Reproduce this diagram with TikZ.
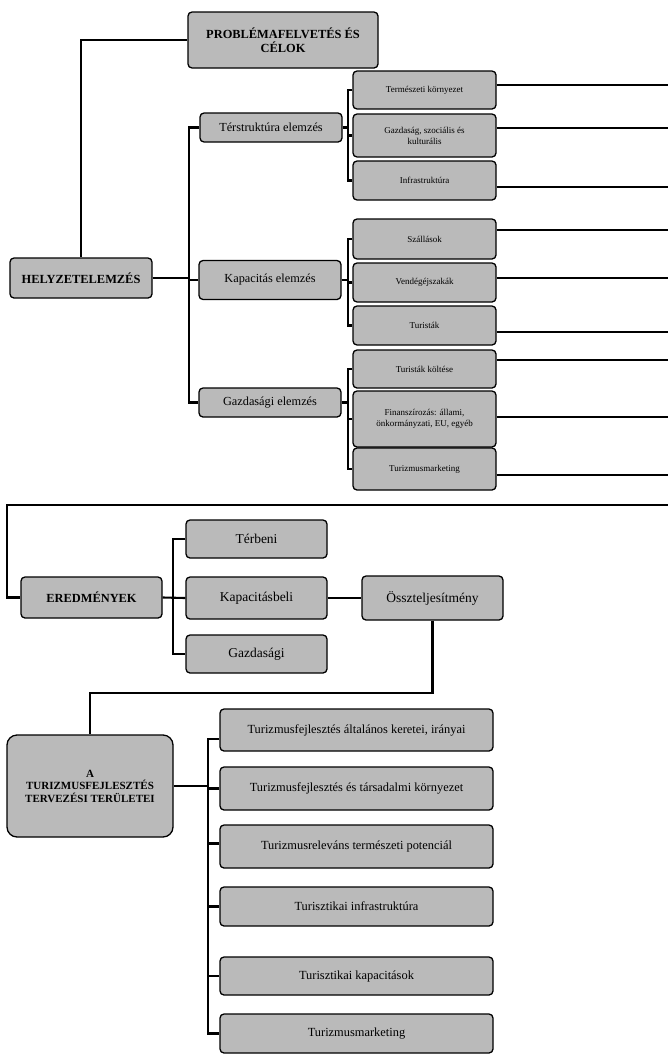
\documentclass[tikz,border=0pt]{standalone}
\usepackage{fontspec}
\setmainfont{Liberation Serif}
\begin{document}
\begin{tikzpicture}[x=1pt,y=-1pt,
  box/.style={draw=black,line width=1.3pt,fill=black!27,rounded corners=4pt,
    inner sep=1pt,align=center,text=black},
  bigt/.style={font=\fontsize{12.4}{13.5}\selectfont\bfseries},
  lvtwo/.style={font=\fontsize{12.3}{13}\selectfont},
  lvthree/.style={font=\fontsize{9}{11}\selectfont},
  midt/.style={font=\fontsize{13.5}{14.5}\selectfont},
  bott/.style={font=\fontsize{12.4}{13}\selectfont},
  conn/.style={line width=2.1pt,draw=black}]
\useasboundingbox (0,0) rectangle (668,1055);
\fill[white] (0,0) rectangle (668,1055);
% first section
\node[box,bigt,minimum width=190pt,minimum height=56pt] (P) at (283,40) {PROBLÉMAFELVETÉS ÉS\\CÉLOK};
\node[box,bigt,minimum width=142pt,minimum height=40pt] (H) at (81,278) {HELYZETELEMZÉS};
\node[box,lvtwo,minimum width=142pt,minimum height=29pt] (T) at (271,127.5) {Térstruktúra elemzés};
\node[box,lvtwo,minimum width=142pt,minimum height=39pt] (K) at (270,280) {Kapacitás elemzés};
\node[box,lvtwo,minimum width=142pt,minimum height=29pt] (G) at (270,402.5) {Gazdasági elemzés};
\node[box,lvthree,minimum width=143pt,minimum height=38pt] (TK) at (424.5,90) {Természeti környezet};
\node[box,lvthree,minimum width=143pt,minimum height=43pt] (GSK) at (424.5,135.5) {Gazdaság, szociális és\\kulturális};
\node[box,lvthree,minimum width=143pt,minimum height=39pt] (IN) at (424.5,180.5) {Infrastruktúra};
\node[box,lvthree,minimum width=143pt,minimum height=40pt] (SZ) at (424.5,239) {Szállások};
\node[box,lvthree,minimum width=143pt,minimum height=39pt] (VE) at (424.5,282.5) {Vendégéjszakák};
\node[box,lvthree,minimum width=143pt,minimum height=39pt] (TU) at (424.5,325.5) {Turisták};
\node[box,lvthree,minimum width=143pt,minimum height=38pt] (TKO) at (424.5,369) {Turisták költése};
\node[box,lvthree,minimum width=143pt,minimum height=56pt] (FI) at (424.5,419) {Finanszírozás: állami,\\önkormányzati, EU, egyéb};
\node[box,lvthree,minimum width=143pt,minimum height=42pt] (TM) at (424.5,469) {Turizmusmarketing};
% second section
\node[box,bigt,minimum width=141pt,minimum height=41pt] (ER) at (91.5,597.5) {EREDMÉNYEK};
\node[box,midt,minimum width=141pt,minimum height=38pt] (TB) at (256.5,539) {Térbeni};
\node[box,midt,minimum width=141pt,minimum height=42pt] (KB) at (256.5,598) {Kapacitásbeli};
\node[box,midt,minimum width=141pt,minimum height=38pt] (GB) at (256.5,654) {Gazdasági};
\node[box,midt,minimum width=141pt,minimum height=44pt] (OS) at (432.5,598) {Összteljesítmény};
% third section
\node[box,rounded corners=10pt,font=\fontsize{11}{12.5}\selectfont\bfseries,minimum width=166pt,minimum height=102pt] (A) at (90,786) {A\\TURIZMUSFEJLESZTÉS\\TERVEZÉSI TERÜLETEI};
\node[box,bott,minimum width=273pt,minimum height=42pt] (B1) at (356.5,730) {Turizmusfejlesztés általános keretei, irányai};
\node[box,bott,minimum width=273pt,minimum height=43pt] (B2) at (356.5,788.5) {Turizmusfejlesztés és társadalmi környezet};
\node[box,bott,minimum width=273pt,minimum height=43pt] (B3) at (356.5,846.5) {Turizmusreleváns természeti potenciál};
\node[box,bott,minimum width=273pt,minimum height=39pt] (B4) at (356.5,906.5) {Turisztikai infrastruktúra};
\node[box,bott,minimum width=273pt,minimum height=38pt] (B5) at (356.5,976) {Turisztikai kapacitások};
\node[box,bott,minimum width=273pt,minimum height=39pt] (B6) at (356.5,1033.5) {Turizmusmarketing};
% bus coordinates
\coordinate (bx) at (189,0);
\coordinate (b2) at (348,0);
\coordinate (b3) at (173,0);
\coordinate (b4) at (208,0);
\coordinate (E) at (668,0);
\coordinate (c1) at (668,505);
\coordinate (c2) at (7,505);
\coordinate (c3) at (0,693);
% connectors section 1
\draw[conn] (P.west) -| (H.north);
\draw[conn] (T.west) -- (T.west -| bx) |- (G.west);
\draw[conn] (H.east) -- (H.east -| bx);
\draw[conn] (K.west) -- (K.west -| bx);
\draw[conn] (T.east) -- (T.east -| b2);
\draw[conn] (TK.west) -- (TK.west -| b2) |- (IN.west);
\draw[conn] (GSK.west) -- (GSK.west -| b2);
\draw[conn] (K.east) -- (K.east -| b2);
\draw[conn] (SZ.west) -- (SZ.west -| b2) |- (TU.west);
\draw[conn] (VE.west) -- (VE.west -| b2);
\draw[conn] (G.east) -- (G.east -| b2);
\draw[conn] (TKO.west) -- (TKO.west -| b2) |- (TM.west);
\draw[conn] (FI.west) -- (FI.west -| b2);
% right edge lines
\draw[conn] ([yshift=5pt]TK.east) -- ([yshift=5pt]TK.east -| E);
\draw[conn] ([yshift=7.5pt]GSK.east) -- ([yshift=7.5pt]GSK.east -| E);
\draw[conn] ([yshift=-6.5pt]IN.east) -- ([yshift=-6.5pt]IN.east -| E);
\draw[conn] ([yshift=9pt]SZ.east) -- ([yshift=9pt]SZ.east -| E);
\draw[conn] ([yshift=4.5pt]VE.east) -- ([yshift=4.5pt]VE.east -| E);
\draw[conn] ([yshift=-6.5pt]TU.east) -- ([yshift=-6.5pt]TU.east -| E);
\draw[conn] ([yshift=9pt]TKO.east) -- ([yshift=9pt]TKO.east -| E);
\draw[conn] ([yshift=2pt]FI.east) -- ([yshift=2pt]FI.east -| E);
\draw[conn] ([yshift=-6pt]TM.east) -- ([yshift=-6pt]TM.east -| E);
% section 2
\draw[conn] (c1) -- (c2) |- (ER.west);
\draw[conn] (ER.east) -- (KB.west);
\draw[conn] (TB.west) -- (TB.west -| b3) |- (GB.west);
\draw[conn] (KB.east) -- (OS.west);
\draw[conn] (OS.south) |- (A.north |- c3) -- (A.north);
% section 3
\draw[conn] (A.east) -- (A.east -| b4);
\draw[conn] ([yshift=-9pt]B1.west) -- ([yshift=-9pt]B1.west -| b4) |- (B6.west);
\draw[conn] (B2.west) -- (B2.west -| b4);
\draw[conn] ([yshift=3pt]B3.west) -- ([yshift=3pt]B3.west -| b4);
\draw[conn] (B4.west) -- (B4.west -| b4);
\draw[conn] (B5.west) -- (B5.west -| b4);
\end{tikzpicture}
\end{document}
